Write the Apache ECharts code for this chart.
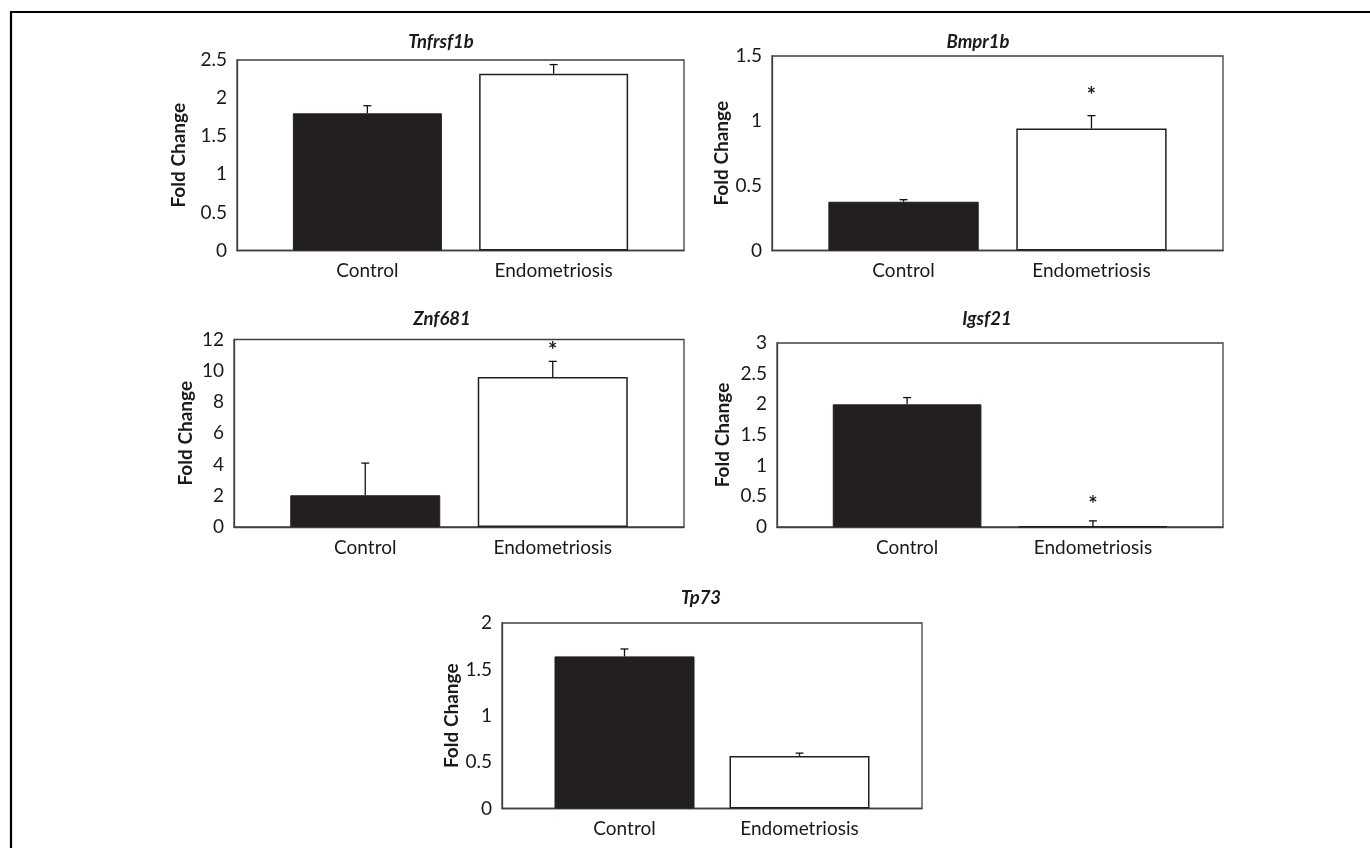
<!DOCTYPE html>
<html>
<head>
<meta charset="utf-8">
<style>
  html, body { margin: 0; padding: 0; background: #fff; }
  #chart { width: 1370px; height: 848px; }
</style>
<script src="https://cdn.jsdelivr.net/npm/echarts@6/dist/echarts.min.js"></script>
</head>
<body>
<div id="chart"></div>
<script>
// ---------------- data ----------------
const categories = ['Control', 'Endometriosis'];
const genes = ['Tnfrsf1b', 'Bmpr1b', 'Znf681', 'Igsf21', 'Tp73'];
const meanControl = [1.80, 0.376, 2.03, 2.00, 1.64];
const meanEndo    = [2.32, 0.94, 9.60, 0.01, 0.567];
const errControl  = [0.10, 0.016, 2.06, 0.11, 0.08];
const errEndo     = [0.12, 0.10, 1.00, 0.09, 0.03];
const sigEndo     = [false, true, true, true, false];
const yMax        = [2.5, 1.5, 12, 3, 2];
const yInterval   = [0.5, 0.5, 2, 0.5, 0.5];

// ---------------- layout (pixels) ----------------
const panels = [
  { left: 237, top: 60,  right: 684, bottom: 250.5, titleX: 436, titleY: 39,  nameGap: 49, starGap: 20 },
  { left: 772, top: 56,  right: 1223, bottom: 250.5, titleX: 973, titleY: 39, nameGap: 40, starGap: 20 },
  { left: 234, top: 339.5, right: 684, bottom: 527, titleX: 437, titleY: 316, nameGap: 39, starGap: 10 },
  { left: 777, top: 343, right: 1223, bottom: 527, titleX: 982, titleY: 316, nameGap: 45, starGap: 16 },
  { left: 502, top: 623, right: 922, bottom: 808.5, titleX: 696, titleY: 595, nameGap: 37, starGap: 12 }
];
const X_MIN = -0.7, X_MAX = 1.7;
const FONT = 'Lato, "Open Sans", sans-serif';
const DARK = '#231f20';
const FRAME = '#404040';
const TXT = '#1a1a1a';

const option = {
  backgroundColor: '#fff',
  animation: false,
  title: [], grid: [], xAxis: [], yAxis: [], series: [],
  graphic: [
    { type: 'line', shape: { x1: 11, y1: 12, x2: 1370, y2: 12 }, style: { stroke: '#000', lineWidth: 2.2 } },
    { type: 'line', shape: { x1: 11, y1: 11, x2: 11, y2: 848 }, style: { stroke: '#000', lineWidth: 2.2 } }
  ]
};

panels.forEach((p, i) => {
  const w = p.right - p.left, h = p.bottom - p.top;
  option.title.push({
    text: genes[i], left: p.titleX, top: p.titleY - 11, textAlign: 'center',
    textStyle: { fontFamily: FONT, fontSize: 18.5, fontWeight: 'bold', fontStyle: 'italic', color: TXT }
  });
  option.grid.push({
    left: p.left, top: p.top, width: w, height: h,
    show: true, borderColor: FRAME, borderWidth: 1.3, backgroundColor: 'transparent'
  });
  option.xAxis.push({
    type: 'value', gridIndex: i, min: X_MIN, max: X_MAX,
    axisLine: { show: true, onZero: false, lineStyle: { color: FRAME, width: 1.3 } },
    axisTick: { show: false }, splitLine: { show: false },
    axisLabel: {
      customValues: [0, 1], margin: 11,
      formatter: v => categories[Math.round(v)] || '',
      fontFamily: FONT, fontSize: 19, color: TXT
    }
  });
  option.yAxis.push({
    type: 'value', gridIndex: i, min: 0, max: yMax[i], interval: yInterval[i],
    name: 'Fold Change', nameLocation: 'middle', nameGap: p.nameGap,
    nameTextStyle: { fontFamily: FONT, fontSize: 19, fontWeight: 'bold', color: TXT },
    axisLine: { show: true, onZero: false, lineStyle: { color: FRAME, width: 1.3 } },
    axisTick: { show: false }, splitLine: { show: false },
    axisLabel: { margin: 10, fontFamily: FONT, fontSize: 19, color: TXT }
  });
  const barW = 0.8 * w / (X_MAX - X_MIN);
  option.series.push({
    type: 'bar', xAxisIndex: i, yAxisIndex: i, barWidth: barW,
    data: [
      { value: [0, meanControl[i]], itemStyle: { color: DARK, borderColor: DARK, borderWidth: 1 } },
      { value: [1, meanEndo[i]], itemStyle: { color: '#fff', borderColor: DARK, borderWidth: 1.5 } }
    ],
    z: 2
  });
  option.series.push({
    type: 'custom', xAxisIndex: i, yAxisIndex: i, z: 3,
    data: [
      [0, meanControl[i], meanControl[i] + errControl[i], 0],
      [1, meanEndo[i], meanEndo[i] + errEndo[i], sigEndo[i] ? 1 : 0]
    ],
    renderItem: (params, api) => {
      const base = api.coord([api.value(0), api.value(1)]);
      const top = api.coord([api.value(0), api.value(2)]);
      const children = [
        { type: 'line', shape: { x1: base[0], y1: base[1], x2: top[0], y2: top[1] }, style: { stroke: '#111', lineWidth: 1.3 } },
        { type: 'line', shape: { x1: top[0] - 4, y1: top[1], x2: top[0] + 4, y2: top[1] }, style: { stroke: '#111', lineWidth: 1.3 } }
      ];
      if (api.value(3) === 1) {
        children.push({
          type: 'text',
          style: { text: '*', x: top[0], y: top[1] - p.starGap, textAlign: 'center', textVerticalAlign: 'middle',
                   fontFamily: FONT, fontSize: 22, fontWeight: 'bold', fill: TXT }
        });
      }
      return { type: 'group', children };
    }
  });
});

const chart = echarts.init(document.getElementById('chart'), null, { renderer: 'canvas' });
chart.setOption(option);
</script>
</body>
</html>
